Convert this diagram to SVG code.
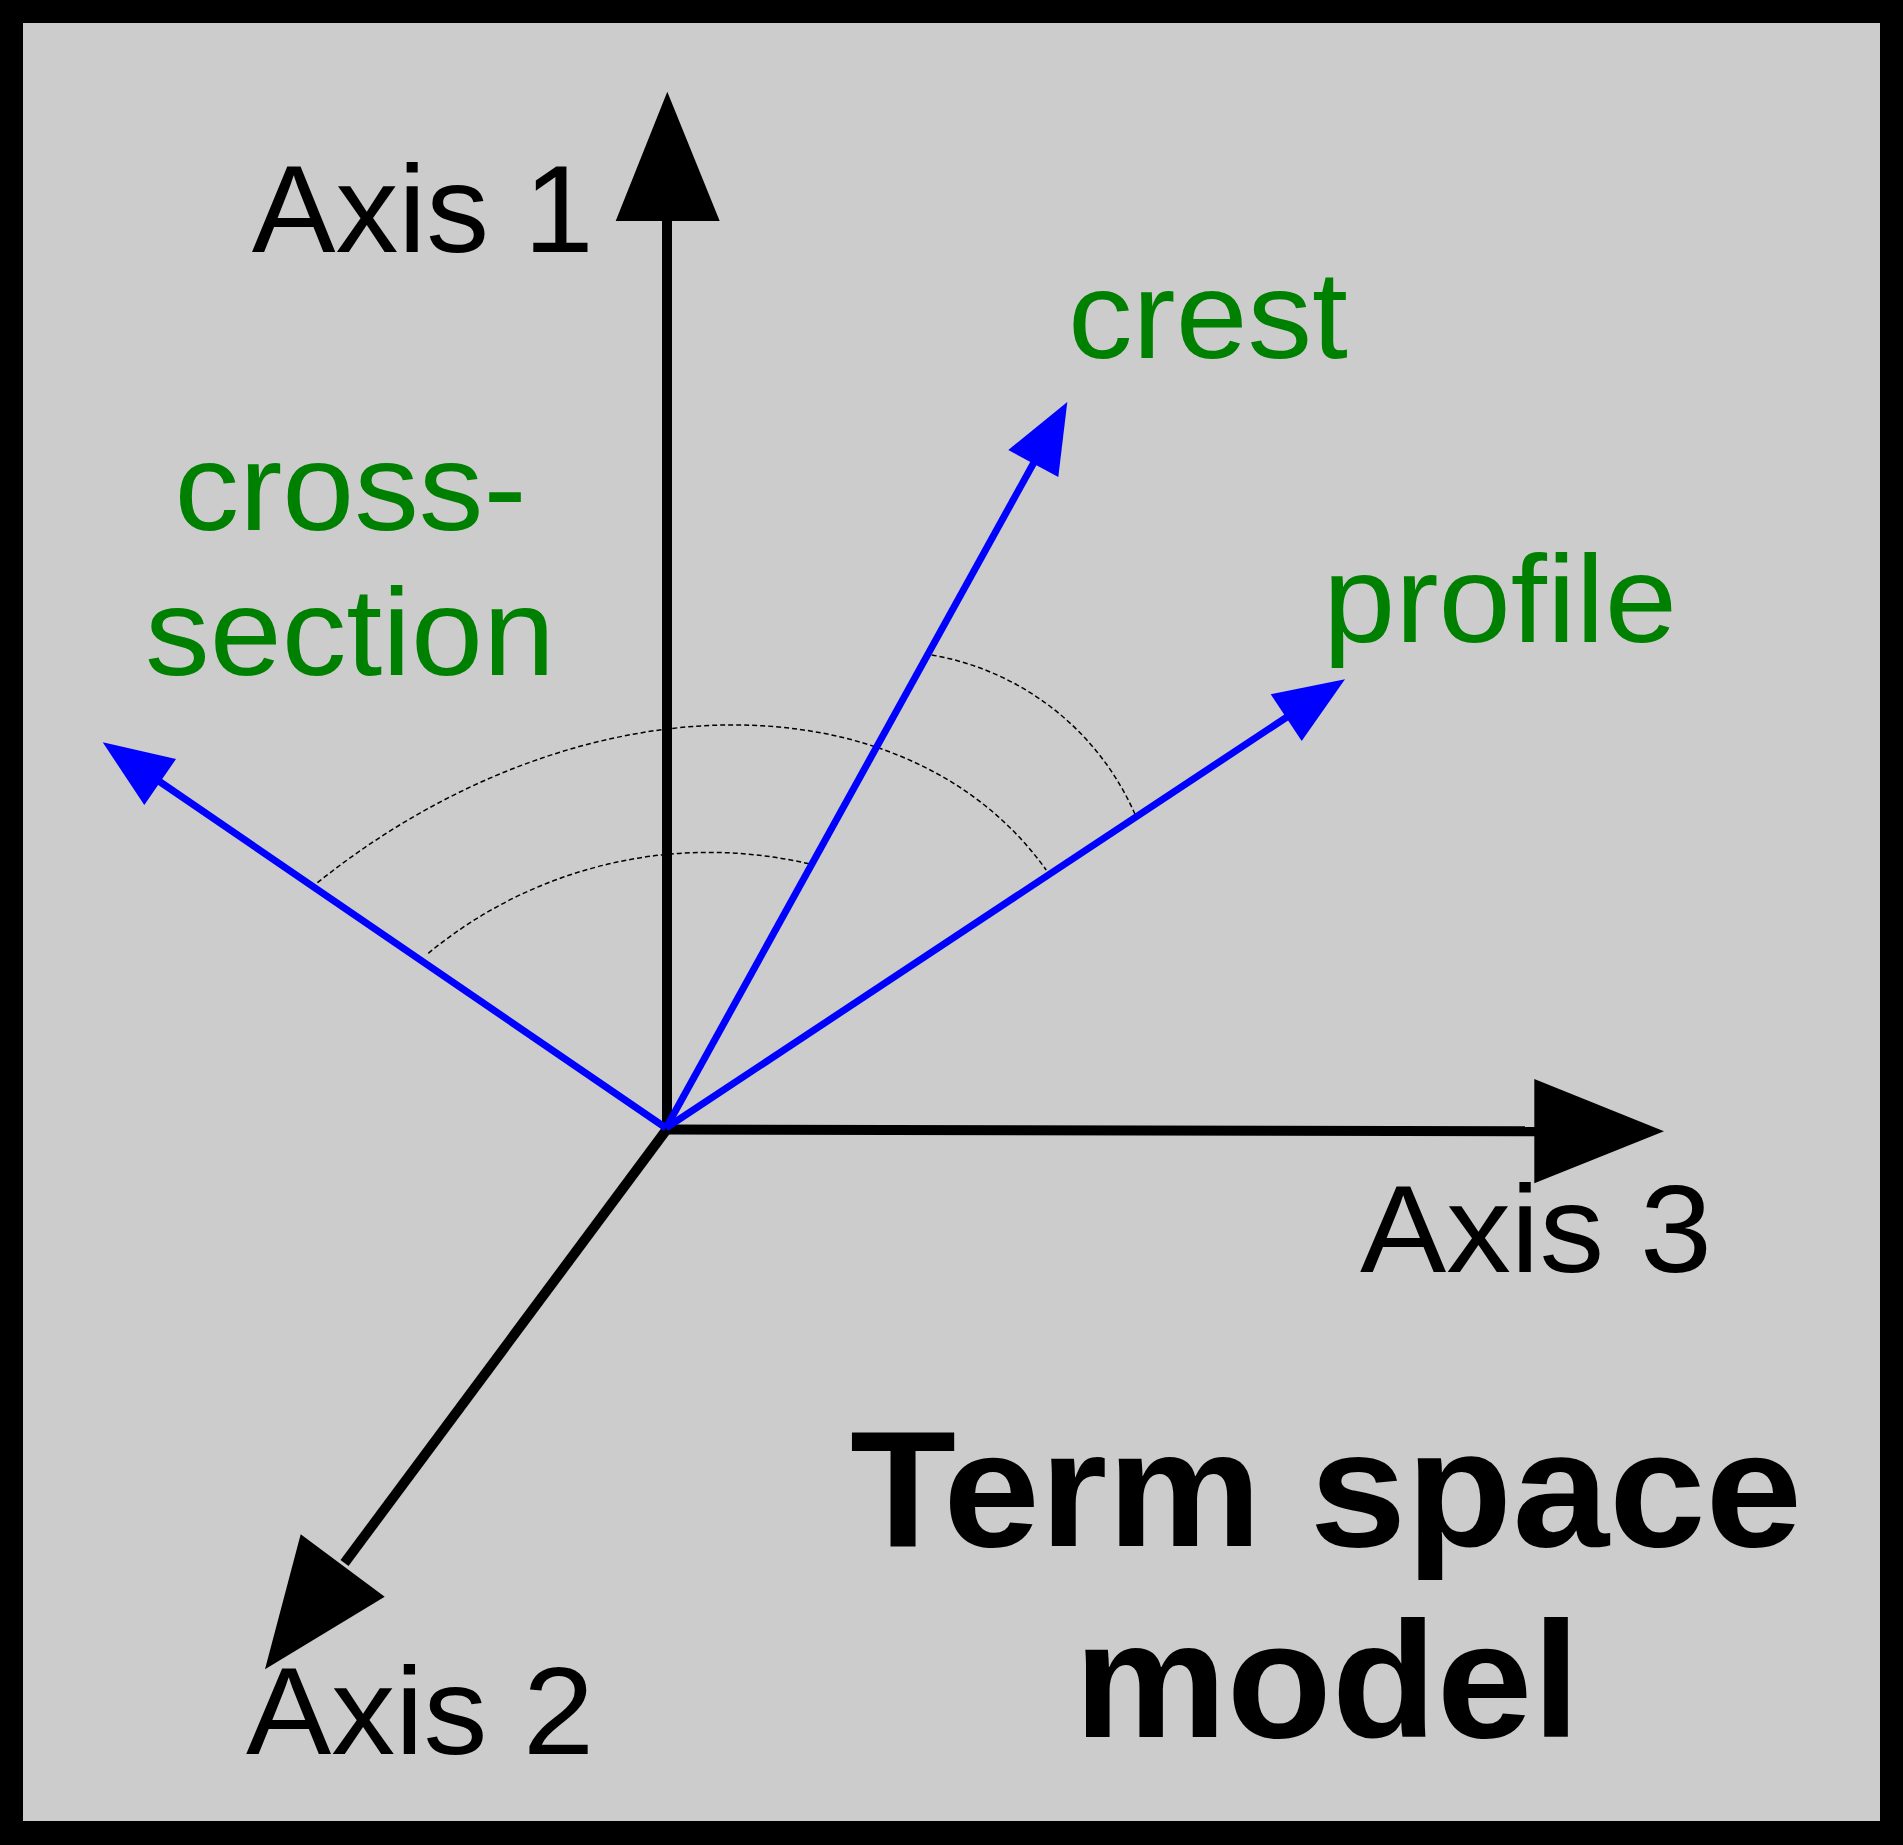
<svg xmlns="http://www.w3.org/2000/svg" width="1903" height="1845" viewBox="0 0 1903 1845">
<style>
.lbl{font-family:"Liberation Sans",Arial,sans-serif;font-size:125px}
.blk{fill:#000}
.grn{fill:#008000}
.ttl{font-family:"Liberation Sans",Arial,sans-serif;font-size:166px;font-weight:bold;fill:#000}
.ax{stroke:#000;stroke-width:10;fill:none}
.bl{stroke:#0000ff;stroke-width:7;fill:none}
.arc{stroke:#000;stroke-width:1.5;fill:none;stroke-dasharray:5 3}
</style>
<g id="frame">
<rect x="0" y="0" width="1903" height="1845" fill="#000"/>
<rect x="23" y="23" width="1857" height="1798" fill="#cccccc"/>
</g>
<g id="connectors">
<g id="arcs">
<path class="arc" d="M317.4 882.7 C577 675 906 674 1046.2 870"/>
<path class="arc" d="M428.3 953.3 A441 441 0 0 1 810.9 864.3"/>
<path class="arc" d="M931.7 655 A272 272 0 0 1 1135 814.3"/>
</g>
<g id="axis1">
<line class="ax" x1="667" y1="1129" x2="667" y2="218"/>
<polygon points="667.3,91.7 615.7,221 719.7,221" fill="#000"/>
</g>
<g id="axis3">
<line class="ax" x1="664" y1="1129.5" x2="1537" y2="1131.2"/>
<polygon points="1664,1131.2 1534.3,1079 1534.3,1183.3" fill="#000"/>
</g>
<g id="axis2">
<line class="ax" x1="667" y1="1129" x2="344.5" y2="1563"/>
<polygon points="265,1669.3 300.7,1534.3 384.7,1596.7" fill="#000"/>
</g>
<g id="crest-vec">
<line class="bl" x1="666" y1="1128" x2="1035" y2="460.5"/>
<polygon points="1067.3,402 1008.3,450 1058.3,477" fill="#0000ff"/>
</g>
<g id="profile-vec">
<line class="bl" x1="666" y1="1128" x2="1288.5" y2="716"/>
<polygon points="1345,679.3 1270.7,694.3 1301.7,741" fill="#0000ff"/>
</g>
<g id="cross-vec">
<line class="bl" x1="666" y1="1128" x2="158" y2="780.5"/>
<polygon points="102.7,742.3 176,759 144.3,805" fill="#0000ff"/>
</g>
</g>
<g id="label-axis1"><text class="lbl blk" x="251.7" y="252" textLength="342" lengthAdjust="spacingAndGlyphs">Axis 1</text></g>
<g id="label-axis2"><text class="lbl blk" x="246" y="1754" textLength="348" lengthAdjust="spacingAndGlyphs">Axis 2</text></g>
<g id="label-axis3"><text class="lbl blk" x="1360" y="1272" textLength="352" lengthAdjust="spacingAndGlyphs">Axis 3</text></g>
<g id="label-crest"><text class="lbl grn" x="1068" y="358" textLength="280" lengthAdjust="spacingAndGlyphs">crest</text></g>
<g id="label-profile"><text class="lbl grn" x="1323" y="642" textLength="354" lengthAdjust="spacingAndGlyphs">profile</text></g>
<g id="label-cross-section">
<text class="lbl grn" x="174.5" y="530" textLength="352" lengthAdjust="spacingAndGlyphs">cross-</text>
<text class="lbl grn" x="145" y="675" textLength="410" lengthAdjust="spacingAndGlyphs">section</text>
</g>
<g id="title">
<text class="ttl" x="1326" y="1546" text-anchor="middle" textLength="952" lengthAdjust="spacingAndGlyphs">Term space</text>
<text class="ttl" x="1327" y="1737" text-anchor="middle" textLength="506" lengthAdjust="spacingAndGlyphs">model</text>
</g>
</svg>
